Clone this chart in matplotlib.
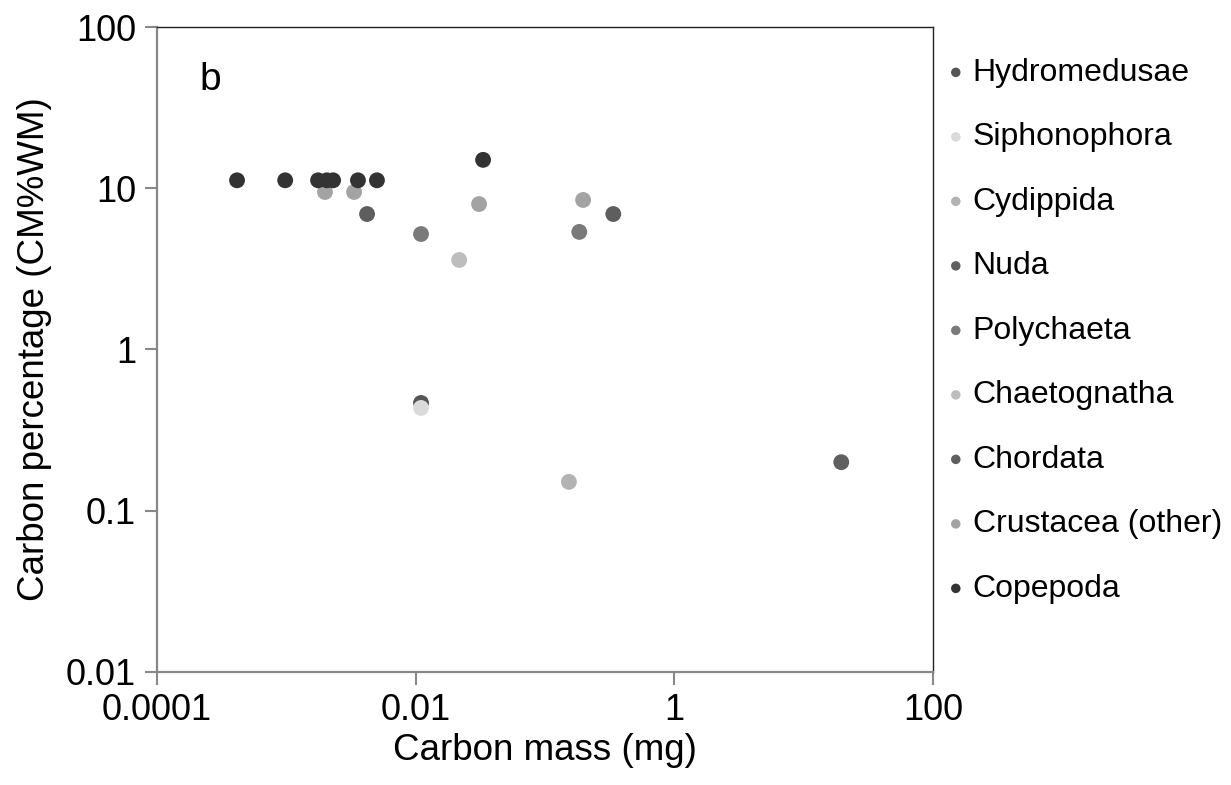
import numpy as np
import matplotlib
matplotlib.use("Agg")
import matplotlib.pyplot as plt
from matplotlib.ticker import FixedLocator, FixedFormatter, NullLocator

plt.rcParams['font.family'] = ['Liberation Sans', 'DejaVu Sans']

# groups, colours and (carbon mass mg, carbon % WM)
groups = ["Hydromedusae", "Siphonophora", "Cydippida", "Nuda", "Polychaeta",
          "Chaetognatha", "Chordata", "Crustacea (other)", "Copepoda"]
colors = ["#555555", "#dadada", "#b3b3b3", "#606060", "#7a7a7a",
          "#bdbdbd", "#5e5e5e", "#a3a3a3", "#333333"]

hydro_x = [0.0110]
hydro_y = [0.466]
sipho_x = [0.0110]
sipho_y = [0.434]
cydi_x = [0.153]
cydi_y = [0.151]
nuda_x = [19.5]
nuda_y = [0.200]
poly_x = [0.0110, 0.184]
poly_y = [5.2, 5.36]
chaeto_x = [0.0217]
chaeto_y = [3.59]
chord_x = [0.00421, 0.337]
chord_y = [6.92, 6.92]
crus_x = [0.00199, 0.00334, 0.0309, 0.197]
crus_y = [9.48, 9.48, 7.98, 8.46]
cope_x = [0.000416, 0.00098, 0.00176, 0.00206, 0.0023, 0.00358, 0.00502, 0.0332]
cope_y = [11.2, 11.2, 11.2, 11.2, 11.2, 11.2, 11.2, 15.0]

xs = [hydro_x, sipho_x, cydi_x, nuda_x, poly_x, chaeto_x, chord_x, crus_x, cope_x]
ys = [hydro_y, sipho_y, cydi_y, nuda_y, poly_y, chaeto_y, chord_y, crus_y, cope_y]

xticks = [0.0001, 0.01, 1, 100]
xlabels = ["0.0001", "0.01", "1", "100"]
yticks = [0.01, 0.1, 1, 10, 100]
ylabels = ["0.01", "0.1", "1", "10", "100"]

fig = plt.figure(figsize=(12.31, 7.85), dpi=100)
ax = fig.add_axes([0.1275, 0.144, 0.6305, 0.8216])

for name, c, x, y in zip(groups, colors, xs, ys):
    ax.scatter(x, y, s=130, color=c, edgecolors="none", label=name, zorder=3)

ax.set_xscale("log")
ax.set_yscale("log")
ax.set_xlim(0.0001, 100)
ax.set_ylim(0.01, 100)
ax.xaxis.set_major_locator(FixedLocator(xticks))
ax.xaxis.set_major_formatter(FixedFormatter(xlabels))
ax.yaxis.set_major_locator(FixedLocator(yticks))
ax.yaxis.set_major_formatter(FixedFormatter(ylabels))
ax.xaxis.set_minor_locator(NullLocator())
ax.yaxis.set_minor_locator(NullLocator())
ax.tick_params(labelsize=26, length=9, width=1.5, color="#888888", pad=6)

for s in ["left", "bottom"]:
    ax.spines[s].set_color("#888888")
    ax.spines[s].set_linewidth(1.6)
for s in ["top", "right"]:
    ax.spines[s].set_color("#222222")
    ax.spines[s].set_linewidth(1.0)

ax.set_xlabel("Carbon mass (mg)", fontsize=26.5, labelpad=4)
ax.set_ylabel("Carbon percentage (CM%WM)", fontsize=26.5, labelpad=10)
ax.text(0.055, 0.945, "b", transform=ax.transAxes, fontsize=28, va="top", ha="left")

leg = ax.legend(loc="upper left", bbox_to_anchor=(0.985, 0.987), frameon=False,
                fontsize=23, markerscale=0.6, handletextpad=0.15,
                labelspacing=1.08, handlelength=0.75, borderaxespad=0.3)

fig.savefig("out.png", dpi=100)
